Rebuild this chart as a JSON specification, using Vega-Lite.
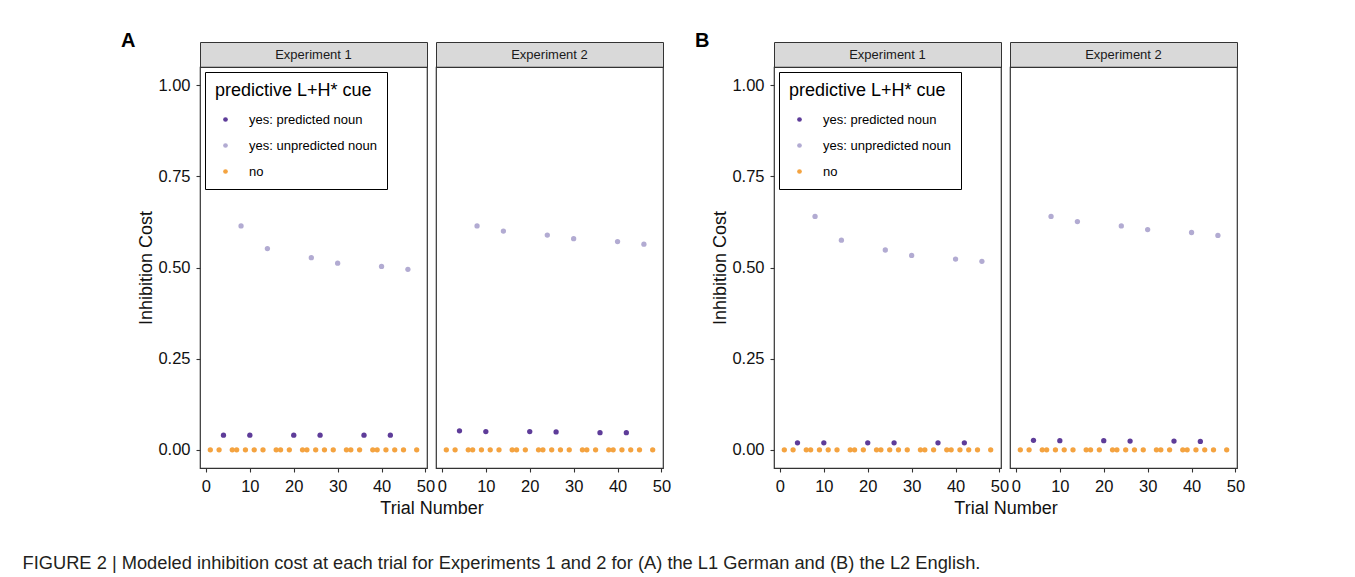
{
 "$schema": "https://vega.github.io/schema/vega-lite/v6.json",
 "autosize": {"type": "pad"},
 "padding": {"left": 22, "top": 30, "right": 5, "bottom": 5},
 "background": "white",
 "title": {"text": "FIGURE 2 | Modeled inhibition cost at each trial for Experiments 1 and 2 for (A) the L1 German and (B) the L2 English.", "orient": "bottom", "anchor": "start", "frame": "bounds", "fontSize": 18.3, "fontWeight": "normal", "color": "#231f20", "offset": 37, "dx": -98},
 "columns": 5,
 "spacing": {"row": 0, "column": 9},
 "bounds": "flush",
 "resolve": {"scale": {"color": "independent", "x": "independent", "y": "independent"}, "legend": {"color": "independent"}},
 "datasets": {
  "points": [
   {"panel":"A","exp":1,"trial":1,"cost":0,"cue":"no"},{"panel":"A","exp":1,"trial":3,"cost":0,"cue":"no"},{"panel":"A","exp":1,"trial":6,"cost":0,"cue":"no"},{"panel":"A","exp":1,"trial":7,"cost":0,"cue":"no"},{"panel":"A","exp":1,"trial":9,"cost":0,"cue":"no"},{"panel":"A","exp":1,"trial":11,"cost":0,"cue":"no"},{"panel":"A","exp":1,"trial":13,"cost":0,"cue":"no"},{"panel":"A","exp":1,"trial":16,"cost":0,"cue":"no"},{"panel":"A","exp":1,"trial":17,"cost":0,"cue":"no"},{"panel":"A","exp":1,"trial":19,"cost":0,"cue":"no"},{"panel":"A","exp":1,"trial":22,"cost":0,"cue":"no"},{"panel":"A","exp":1,"trial":23,"cost":0,"cue":"no"},{"panel":"A","exp":1,"trial":25,"cost":0,"cue":"no"},{"panel":"A","exp":1,"trial":27,"cost":0,"cue":"no"},{"panel":"A","exp":1,"trial":29,"cost":0,"cue":"no"},{"panel":"A","exp":1,"trial":32,"cost":0,"cue":"no"},{"panel":"A","exp":1,"trial":33,"cost":0,"cue":"no"},{"panel":"A","exp":1,"trial":35,"cost":0,"cue":"no"},{"panel":"A","exp":1,"trial":38,"cost":0,"cue":"no"},{"panel":"A","exp":1,"trial":39,"cost":0,"cue":"no"},{"panel":"A","exp":1,"trial":41,"cost":0,"cue":"no"},{"panel":"A","exp":1,"trial":43,"cost":0,"cue":"no"},{"panel":"A","exp":1,"trial":45,"cost":0,"cue":"no"},{"panel":"A","exp":1,"trial":48,"cost":0,"cue":"no"},
   {"panel":"A","exp":1,"trial":4,"cost":0.04,"cue":"yes: predicted noun"},{"panel":"A","exp":1,"trial":10,"cost":0.04,"cue":"yes: predicted noun"},{"panel":"A","exp":1,"trial":20,"cost":0.04,"cue":"yes: predicted noun"},{"panel":"A","exp":1,"trial":26,"cost":0.04,"cue":"yes: predicted noun"},{"panel":"A","exp":1,"trial":36,"cost":0.04,"cue":"yes: predicted noun"},{"panel":"A","exp":1,"trial":42,"cost":0.04,"cue":"yes: predicted noun"},
   {"panel":"A","exp":1,"trial":8,"cost":0.614,"cue":"yes: unpredicted noun"},{"panel":"A","exp":1,"trial":14,"cost":0.552,"cue":"yes: unpredicted noun"},{"panel":"A","exp":1,"trial":24,"cost":0.527,"cue":"yes: unpredicted noun"},{"panel":"A","exp":1,"trial":30,"cost":0.512,"cue":"yes: unpredicted noun"},{"panel":"A","exp":1,"trial":40,"cost":0.503,"cue":"yes: unpredicted noun"},{"panel":"A","exp":1,"trial":46,"cost":0.495,"cue":"yes: unpredicted noun"},

   {"panel":"A","exp":2,"trial":1,"cost":0,"cue":"no"},{"panel":"A","exp":2,"trial":3,"cost":0,"cue":"no"},{"panel":"A","exp":2,"trial":6,"cost":0,"cue":"no"},{"panel":"A","exp":2,"trial":7,"cost":0,"cue":"no"},{"panel":"A","exp":2,"trial":9,"cost":0,"cue":"no"},{"panel":"A","exp":2,"trial":11,"cost":0,"cue":"no"},{"panel":"A","exp":2,"trial":13,"cost":0,"cue":"no"},{"panel":"A","exp":2,"trial":16,"cost":0,"cue":"no"},{"panel":"A","exp":2,"trial":17,"cost":0,"cue":"no"},{"panel":"A","exp":2,"trial":19,"cost":0,"cue":"no"},{"panel":"A","exp":2,"trial":22,"cost":0,"cue":"no"},{"panel":"A","exp":2,"trial":23,"cost":0,"cue":"no"},{"panel":"A","exp":2,"trial":25,"cost":0,"cue":"no"},{"panel":"A","exp":2,"trial":27,"cost":0,"cue":"no"},{"panel":"A","exp":2,"trial":29,"cost":0,"cue":"no"},{"panel":"A","exp":2,"trial":32,"cost":0,"cue":"no"},{"panel":"A","exp":2,"trial":33,"cost":0,"cue":"no"},{"panel":"A","exp":2,"trial":35,"cost":0,"cue":"no"},{"panel":"A","exp":2,"trial":38,"cost":0,"cue":"no"},{"panel":"A","exp":2,"trial":39,"cost":0,"cue":"no"},{"panel":"A","exp":2,"trial":41,"cost":0,"cue":"no"},{"panel":"A","exp":2,"trial":43,"cost":0,"cue":"no"},{"panel":"A","exp":2,"trial":45,"cost":0,"cue":"no"},{"panel":"A","exp":2,"trial":48,"cost":0,"cue":"no"},
   {"panel":"A","exp":2,"trial":4,"cost":0.052,"cue":"yes: predicted noun"},{"panel":"A","exp":2,"trial":10,"cost":0.05,"cue":"yes: predicted noun"},{"panel":"A","exp":2,"trial":20,"cost":0.05,"cue":"yes: predicted noun"},{"panel":"A","exp":2,"trial":26,"cost":0.049,"cue":"yes: predicted noun"},{"panel":"A","exp":2,"trial":36,"cost":0.047,"cue":"yes: predicted noun"},{"panel":"A","exp":2,"trial":42,"cost":0.047,"cue":"yes: predicted noun"},
   {"panel":"A","exp":2,"trial":8,"cost":0.614,"cue":"yes: unpredicted noun"},{"panel":"A","exp":2,"trial":14,"cost":0.6,"cue":"yes: unpredicted noun"},{"panel":"A","exp":2,"trial":24,"cost":0.589,"cue":"yes: unpredicted noun"},{"panel":"A","exp":2,"trial":30,"cost":0.579,"cue":"yes: unpredicted noun"},{"panel":"A","exp":2,"trial":40,"cost":0.571,"cue":"yes: unpredicted noun"},{"panel":"A","exp":2,"trial":46,"cost":0.564,"cue":"yes: unpredicted noun"},

   {"panel":"B","exp":1,"trial":1,"cost":0,"cue":"no"},{"panel":"B","exp":1,"trial":3,"cost":0,"cue":"no"},{"panel":"B","exp":1,"trial":6,"cost":0,"cue":"no"},{"panel":"B","exp":1,"trial":7,"cost":0,"cue":"no"},{"panel":"B","exp":1,"trial":9,"cost":0,"cue":"no"},{"panel":"B","exp":1,"trial":11,"cost":0,"cue":"no"},{"panel":"B","exp":1,"trial":13,"cost":0,"cue":"no"},{"panel":"B","exp":1,"trial":16,"cost":0,"cue":"no"},{"panel":"B","exp":1,"trial":17,"cost":0,"cue":"no"},{"panel":"B","exp":1,"trial":19,"cost":0,"cue":"no"},{"panel":"B","exp":1,"trial":22,"cost":0,"cue":"no"},{"panel":"B","exp":1,"trial":23,"cost":0,"cue":"no"},{"panel":"B","exp":1,"trial":25,"cost":0,"cue":"no"},{"panel":"B","exp":1,"trial":27,"cost":0,"cue":"no"},{"panel":"B","exp":1,"trial":29,"cost":0,"cue":"no"},{"panel":"B","exp":1,"trial":32,"cost":0,"cue":"no"},{"panel":"B","exp":1,"trial":33,"cost":0,"cue":"no"},{"panel":"B","exp":1,"trial":35,"cost":0,"cue":"no"},{"panel":"B","exp":1,"trial":38,"cost":0,"cue":"no"},{"panel":"B","exp":1,"trial":39,"cost":0,"cue":"no"},{"panel":"B","exp":1,"trial":41,"cost":0,"cue":"no"},{"panel":"B","exp":1,"trial":43,"cost":0,"cue":"no"},{"panel":"B","exp":1,"trial":45,"cost":0,"cue":"no"},{"panel":"B","exp":1,"trial":48,"cost":0,"cue":"no"},
   {"panel":"B","exp":1,"trial":4,"cost":0.019,"cue":"yes: predicted noun"},{"panel":"B","exp":1,"trial":10,"cost":0.019,"cue":"yes: predicted noun"},{"panel":"B","exp":1,"trial":20,"cost":0.019,"cue":"yes: predicted noun"},{"panel":"B","exp":1,"trial":26,"cost":0.019,"cue":"yes: predicted noun"},{"panel":"B","exp":1,"trial":36,"cost":0.019,"cue":"yes: predicted noun"},{"panel":"B","exp":1,"trial":42,"cost":0.019,"cue":"yes: predicted noun"},
   {"panel":"B","exp":1,"trial":8,"cost":0.64,"cue":"yes: unpredicted noun"},{"panel":"B","exp":1,"trial":14,"cost":0.575,"cue":"yes: unpredicted noun"},{"panel":"B","exp":1,"trial":24,"cost":0.548,"cue":"yes: unpredicted noun"},{"panel":"B","exp":1,"trial":30,"cost":0.533,"cue":"yes: unpredicted noun"},{"panel":"B","exp":1,"trial":40,"cost":0.523,"cue":"yes: unpredicted noun"},{"panel":"B","exp":1,"trial":46,"cost":0.517,"cue":"yes: unpredicted noun"},

   {"panel":"B","exp":2,"trial":1,"cost":0,"cue":"no"},{"panel":"B","exp":2,"trial":3,"cost":0,"cue":"no"},{"panel":"B","exp":2,"trial":6,"cost":0,"cue":"no"},{"panel":"B","exp":2,"trial":7,"cost":0,"cue":"no"},{"panel":"B","exp":2,"trial":9,"cost":0,"cue":"no"},{"panel":"B","exp":2,"trial":11,"cost":0,"cue":"no"},{"panel":"B","exp":2,"trial":13,"cost":0,"cue":"no"},{"panel":"B","exp":2,"trial":16,"cost":0,"cue":"no"},{"panel":"B","exp":2,"trial":17,"cost":0,"cue":"no"},{"panel":"B","exp":2,"trial":19,"cost":0,"cue":"no"},{"panel":"B","exp":2,"trial":22,"cost":0,"cue":"no"},{"panel":"B","exp":2,"trial":23,"cost":0,"cue":"no"},{"panel":"B","exp":2,"trial":25,"cost":0,"cue":"no"},{"panel":"B","exp":2,"trial":27,"cost":0,"cue":"no"},{"panel":"B","exp":2,"trial":29,"cost":0,"cue":"no"},{"panel":"B","exp":2,"trial":32,"cost":0,"cue":"no"},{"panel":"B","exp":2,"trial":33,"cost":0,"cue":"no"},{"panel":"B","exp":2,"trial":35,"cost":0,"cue":"no"},{"panel":"B","exp":2,"trial":38,"cost":0,"cue":"no"},{"panel":"B","exp":2,"trial":39,"cost":0,"cue":"no"},{"panel":"B","exp":2,"trial":41,"cost":0,"cue":"no"},{"panel":"B","exp":2,"trial":43,"cost":0,"cue":"no"},{"panel":"B","exp":2,"trial":45,"cost":0,"cue":"no"},{"panel":"B","exp":2,"trial":48,"cost":0,"cue":"no"},
   {"panel":"B","exp":2,"trial":4,"cost":0.026,"cue":"yes: predicted noun"},{"panel":"B","exp":2,"trial":10,"cost":0.025,"cue":"yes: predicted noun"},{"panel":"B","exp":2,"trial":20,"cost":0.025,"cue":"yes: predicted noun"},{"panel":"B","exp":2,"trial":26,"cost":0.024,"cue":"yes: predicted noun"},{"panel":"B","exp":2,"trial":36,"cost":0.024,"cue":"yes: predicted noun"},{"panel":"B","exp":2,"trial":42,"cost":0.023,"cue":"yes: predicted noun"},
   {"panel":"B","exp":2,"trial":8,"cost":0.64,"cue":"yes: unpredicted noun"},{"panel":"B","exp":2,"trial":14,"cost":0.626,"cue":"yes: unpredicted noun"},{"panel":"B","exp":2,"trial":24,"cost":0.614,"cue":"yes: unpredicted noun"},{"panel":"B","exp":2,"trial":30,"cost":0.604,"cue":"yes: unpredicted noun"},{"panel":"B","exp":2,"trial":40,"cost":0.596,"cue":"yes: unpredicted noun"},{"panel":"B","exp":2,"trial":46,"cost":0.588,"cue":"yes: unpredicted noun"}
  ]
 },
 "concat": [
  {"width": 227, "height": 25, "data": {"values": [{"label": "Experiment 1"}]}, "mark": {"type": "text", "fontSize": 13, "color": "#1a1a1a"}, "encoding": {"text": {"field": "label", "type": "nominal"}}, "view": {"fill": "#d9d9d9", "stroke": "#333333"},
   "title": {"text": "A", "anchor": "start", "frame": "group", "fontSize": 20, "fontWeight": "bold", "color": "#000", "offset": 0, "dx": -79, "dy": 9}},
  {"width": 227, "height": 25, "data": {"values": [{"label": "Experiment 2"}]}, "mark": {"type": "text", "fontSize": 13, "color": "#1a1a1a"}, "encoding": {"text": {"field": "label", "type": "nominal"}}, "view": {"fill": "#d9d9d9", "stroke": "#333333"}},
  {"width": 93, "height": 25, "data": {"values": []}, "mark": {"type": "text"}, "encoding": {}, "view": {"stroke": null}},
  {"width": 227, "height": 25, "data": {"values": [{"label": "Experiment 1"}]}, "mark": {"type": "text", "fontSize": 13, "color": "#1a1a1a"}, "encoding": {"text": {"field": "label", "type": "nominal"}}, "view": {"fill": "#d9d9d9", "stroke": "#333333"},
   "title": {"text": "B", "anchor": "start", "frame": "group", "fontSize": 20, "fontWeight": "bold", "color": "#000", "offset": 0, "dx": -79, "dy": 9}},
  {"width": 227, "height": 25, "data": {"values": [{"label": "Experiment 2"}]}, "mark": {"type": "text", "fontSize": 13, "color": "#1a1a1a"}, "encoding": {"text": {"field": "label", "type": "nominal"}}, "view": {"fill": "#d9d9d9", "stroke": "#333333"}},

  {"width": 227, "height": 401, "data": {"name": "points"}, "transform": [{"filter": "datum.panel === 'A' && datum.exp === 1"}],
   "mark": {"type": "circle", "size": 28, "opacity": 1},
   "encoding": {
    "x": {"field": "trial", "type": "quantitative", "scale": {"domain": [-1.35, 50.35], "nice": false, "zero": false}, "axis": {"values": [0, 10, 20, 30, 40, 50], "format": "d", "title": "Trial Number", "titleX": 231.5}},
    "y": {"field": "cost", "type": "quantitative", "scale": {"domain": [-0.05, 1.05], "nice": false, "zero": false}, "axis": {"values": [0, 0.25, 0.5, 0.75, 1], "format": ".2f", "title": "Inhibition Cost", "titlePadding": 2}},
    "color": {"field": "cue", "type": "nominal", "scale": {"domain": ["yes: predicted noun", "yes: unpredicted noun", "no"], "range": ["#5e3c99", "#b2abd2", "#f4a340"]}, "legend": {"title": "predictive L+H* cue", "orient": "top-left", "offset": 5, "labelFontSize": 13, "labelOffset": 17, "rowPadding": 12}}
   }},
  {"width": 227, "height": 401, "data": {"name": "points"}, "transform": [{"filter": "datum.panel === 'A' && datum.exp === 2"}],
   "mark": {"type": "circle", "size": 28, "opacity": 1},
   "encoding": {
    "x": {"field": "trial", "type": "quantitative", "scale": {"domain": [-1.35, 50.35], "nice": false, "zero": false}, "axis": {"values": [0, 10, 20, 30, 40, 50], "format": "d", "title": null}},
    "y": {"field": "cost", "type": "quantitative", "scale": {"domain": [-0.05, 1.05], "nice": false, "zero": false}, "axis": null},
    "color": {"field": "cue", "type": "nominal", "scale": {"domain": ["yes: predicted noun", "yes: unpredicted noun", "no"], "range": ["#5e3c99", "#b2abd2", "#f4a340"]}, "legend": null}
   }},
  {"width": 93, "height": 401, "data": {"values": []}, "mark": {"type": "text"}, "encoding": {}, "view": {"stroke": null}},
  {"width": 227, "height": 401, "data": {"name": "points"}, "transform": [{"filter": "datum.panel === 'B' && datum.exp === 1"}],
   "mark": {"type": "circle", "size": 28, "opacity": 1},
   "encoding": {
    "x": {"field": "trial", "type": "quantitative", "scale": {"domain": [-1.35, 50.35], "nice": false, "zero": false}, "axis": {"values": [0, 10, 20, 30, 40, 50], "format": "d", "title": "Trial Number", "titleX": 231.5}},
    "y": {"field": "cost", "type": "quantitative", "scale": {"domain": [-0.05, 1.05], "nice": false, "zero": false}, "axis": {"values": [0, 0.25, 0.5, 0.75, 1], "format": ".2f", "title": "Inhibition Cost", "titlePadding": 2}},
    "color": {"field": "cue", "type": "nominal", "scale": {"domain": ["yes: predicted noun", "yes: unpredicted noun", "no"], "range": ["#5e3c99", "#b2abd2", "#f4a340"]}, "legend": {"title": "predictive L+H* cue", "orient": "top-left", "offset": 5, "labelFontSize": 13, "labelOffset": 17, "rowPadding": 12}}
   }},
  {"width": 227, "height": 401, "data": {"name": "points"}, "transform": [{"filter": "datum.panel === 'B' && datum.exp === 2"}],
   "mark": {"type": "circle", "size": 28, "opacity": 1},
   "encoding": {
    "x": {"field": "trial", "type": "quantitative", "scale": {"domain": [-1.35, 50.35], "nice": false, "zero": false}, "axis": {"values": [0, 10, 20, 30, 40, 50], "format": "d", "title": null}},
    "y": {"field": "cost", "type": "quantitative", "scale": {"domain": [-0.05, 1.05], "nice": false, "zero": false}, "axis": null},
    "color": {"field": "cue", "type": "nominal", "scale": {"domain": ["yes: predicted noun", "yes: unpredicted noun", "no"], "range": ["#5e3c99", "#b2abd2", "#f4a340"]}, "legend": null}
   }}
 ],
 "config": {
  "font": "Liberation Sans",
  "view": {"stroke": "#333333", "strokeWidth": 1.2},
  "axis": {"domain": false, "grid": false, "ticks": true, "tickColor": "#333333", "tickSize": 4, "tickWidth": 1.1, "labelFontSize": 16.5, "labelColor": "#111111", "labelPadding": 6, "titleFontSize": 18, "titleFontWeight": "normal", "titleColor": "#111111", "labelFlush": false, "labelOverlap": false, "titlePadding": 5},
  "legend": {"titleFontSize": 18, "titleFontWeight": "normal", "titleColor": "#000000", "labelFontSize": 13, "labelColor": "#000000", "symbolSize": 22, "symbolType": "circle", "strokeColor": "#000000", "fillColor": "#ffffff", "padding": 10, "rowPadding": 12, "titlePadding": 13, "labelOffset": 17, "symbolOffset": 4},
  "title": {"color": "#000000"}
 }
}
